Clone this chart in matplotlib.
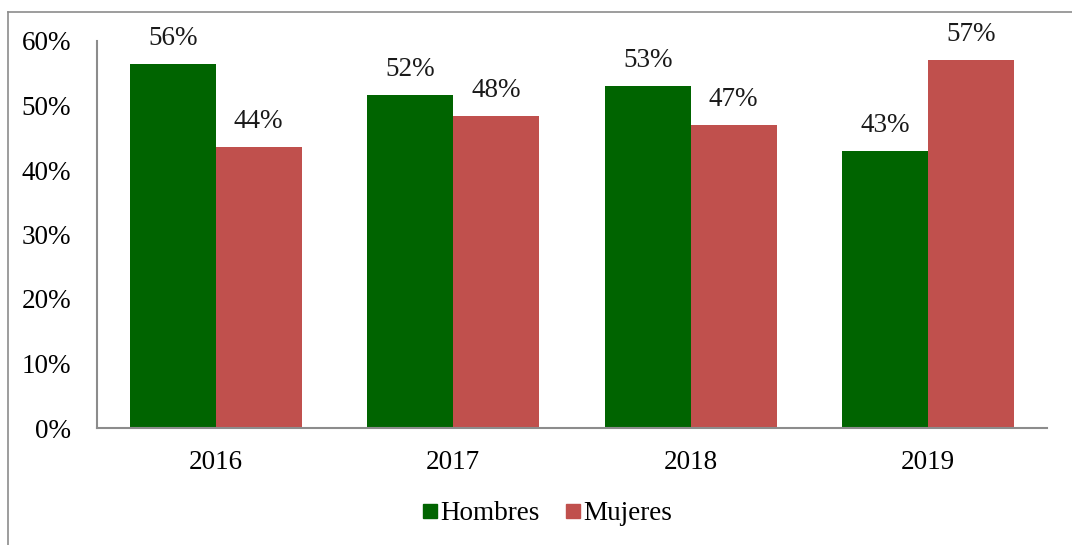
import matplotlib.pyplot as plt
import numpy as np
from matplotlib.lines import Line2D

# --- Données ---
annees = ['2016', '2017', '2018', '2019']
hombres = [56.4, 51.7, 53.0, 42.9]
mujeres = [43.6, 48.3, 47.0, 57.1]
etiquettes_y = ['0%', '10%', '20%', '30%', '40%', '50%', '60%']

vert = '#006400'
rouge = '#C0504D'
gris = '#8C8C8C'

plt.rcParams['font.family'] = ['Liberation Serif', 'DejaVu Serif']

fig = plt.figure(figsize=(10.72, 5.45), dpi=100)
ax = fig.add_axes([97/1072, 1 - 428/545, 950/1072, 387/545])

x = np.arange(len(annees))
largeur = 0.362
barres_h = ax.bar(x - largeur/2, hombres, largeur, color=vert, linewidth=0)
barres_m = ax.bar(x + largeur/2, mujeres, largeur, color=rouge, linewidth=0)

# Etiquettes de valeur
for barres, valeurs in ((barres_h, hombres), (barres_m, mujeres)):
    for b, v in zip(barres, valeurs):
        ax.annotate(f"{round(v):d}%", (b.get_x() + b.get_width()/2, v),
                    xytext=(0, 13), textcoords='offset pixels',
                    ha='center', va='bottom', fontsize=19.5, color='#1a1a1a')

# Axes
ax.set_xlim(-0.5, 3.5)
ax.set_ylim(0, 60)
ax.set_yticks(range(0, 61, 10))
ax.set_yticklabels(etiquettes_y)
ax.set_xticks(x)
ax.set_xticklabels(annees)
ax.tick_params(axis='both', length=0, labelsize=19.5, colors='black')
ax.tick_params(axis='y', pad=18.5)
ax.tick_params(axis='x', pad=16)
for s in ('top', 'right'):
    ax.spines[s].set_visible(False)
for s in ('left', 'bottom'):
    ax.spines[s].set_color(gris)
    ax.spines[s].set_linewidth(1.5)

# --- Légende ---
legend_elements = [
    Line2D([0], [0], marker='s', color='none', markerfacecolor=vert,
           markeredgecolor=vert, markersize=10, label='Hombres'),
    Line2D([0], [0], marker='s', color='none', markerfacecolor=rouge,
           markeredgecolor=rouge, markersize=10, label='Mujeres'),
]
fig.legend(handles=legend_elements, loc='center', ncol=2, frameon=False,
           bbox_to_anchor=(547/1072, 1 - 514/545), fontsize=19.5,
           handlelength=0.6, handletextpad=0.1, columnspacing=0.9)

# Cadre
fig.add_artist(Line2D([8/1072, 1], [1 - 12/545, 1 - 12/545], color=gris,
                      linewidth=1.2, transform=fig.transFigure))
fig.add_artist(Line2D([8/1072, 8/1072], [0, 1 - 12/545], color=gris,
                      linewidth=1.2, transform=fig.transFigure))

fig.savefig('out.png', dpi=100)
